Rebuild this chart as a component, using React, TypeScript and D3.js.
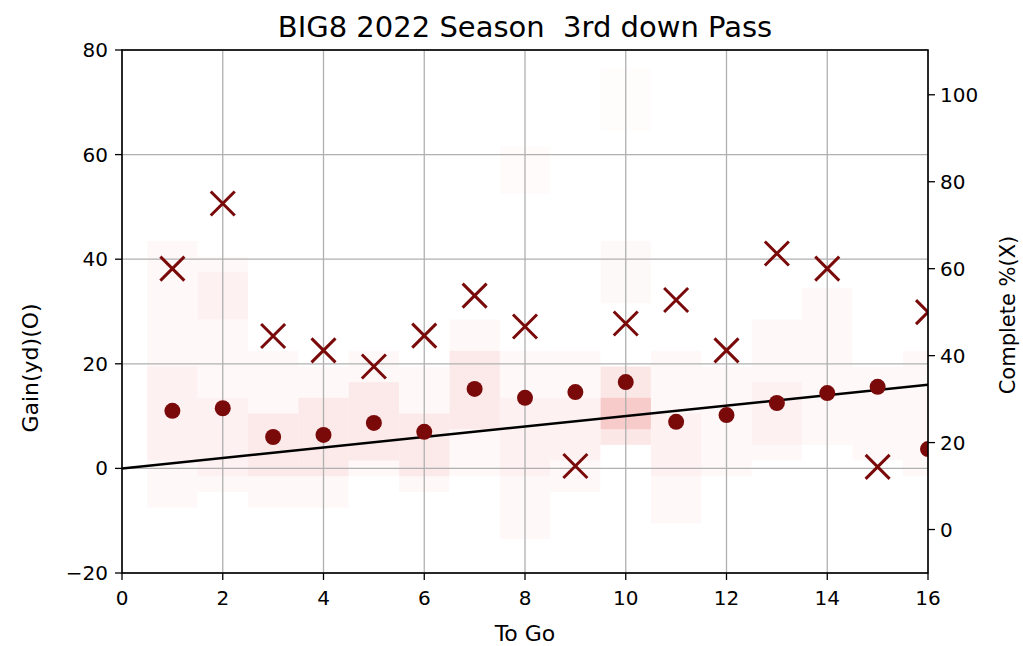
import React from 'react';
import * as d3 from 'd3';

// yards to go on 3rd down
const toGo = [1, 2, 3, 4, 5, 6, 7, 8, 9, 10, 11, 12, 13, 14, 15, 16];
// average gain (yd), left axis
const gain = [11.0, 11.5, 6.0, 6.4, 8.7, 7.0, 15.2, 13.5, 14.6, 16.5, 8.9, 10.2, 12.5, 14.4, 15.6, 3.7];
// completion %, right axis
const complete = [60, 75, 44.5, 41.2, 37.5, 44.6, 53.8, 46.7, 14.6, 47.4, 52.8, 41.2, 63.5, 60, 14.4, 50];
// play density: [toGo, gain from, gain to, weight]
const density: [number, number, number, number][] = [
  [1, -7.5, 43.5, 1], [1, 1.5, 19.5, 1],
  [2, -4.5, 40.5, 1], [2, 28.5, 37.5, 1], [2, -1.5, 13.5, 1],
  [3, -7.5, 22.5, 1], [3, -1.5, 10.5, 2],
  [4, -7.5, 19.5, 1], [4, -1.5, 13.5, 2],
  [5, -1.5, 22.5, 1], [5, 1.5, 16.5, 2],
  [6, -4.5, 19.5, 1], [6, -1.5, 10.5, 2],
  [7, -1.5, 28.5, 1], [7, 7.5, 22.5, 2],
  [8, 52.5, 61.5, 0.6], [8, -13.5, 22.5, 1], [8, -1.5, 13.5, 1],
  [9, -4.5, 22.5, 1], [9, 1.5, 13.5, 1],
  [10, 64.5, 76.5, 0.4], [10, 31.5, 43.5, 0.8], [10, 4.5, 19.5, 3.5], [10, 7.5, 13.5, 4.5],
  [11, -10.5, 22.5, 1], [11, -1.5, 10.5, 1],
  [12, -1.5, 19.5, 1],
  [13, 1.5, 28.5, 1], [13, 4.5, 16.5, 1],
  [14, 4.5, 34.5, 1],
  [15, 1.5, 19.5, 1],
  [16, -1.5, 22.5, 1],
];
const xTicks = [0, 2, 4, 6, 8, 10, 12, 14, 16];
const yTicks = [-20, 0, 20, 40, 60, 80];
const y2Ticks = [0, 20, 40, 60, 80, 100];

const W = 1023;
const H = 646;
const m = { left: 122, right: 928, top: 50, bottom: 573 };
const FONT = 'DejaVu Sans, sans-serif';
const MAROON = '#7a0a0a';

export default function App() {
  const x = d3.scaleLinear().domain([0, 16]).range([m.left, m.right]);
  const y = d3.scaleLinear().domain([-20, 80]).range([m.bottom, m.top]);
  const y2 = d3.scaleLinear().domain([-10, 110.3]).range([m.bottom, m.top]);
  const line = d3.line<number>().x(d => x(d)).y(d => y(d));
  const cs = 12;

  return (
    <svg width={W} height={H} style={{ position: 'absolute', left: 0, top: 0, background: '#fff' }}
      fontFamily={FONT}>
      <defs>
        <clipPath id="plot">
          <rect x={m.left} y={m.top} width={m.right - m.left} height={m.bottom - m.top} />
        </clipPath>
      </defs>

      <g clipPath="url(#plot)">
        {density.map(([c, lo, hi, w], i) => (
          <rect key={'d' + i} x={x(c - 0.5)} width={x(1) - x(0)} y={y(hi)} height={y(lo) - y(hi)}
            fill="#e00000" fillOpacity={1 - Math.pow(0.972, w)} />
        ))}
      </g>

      {/* grid */}
      {xTicks.map(t => (
        <line key={'gx' + t} x1={x(t)} x2={x(t)} y1={m.top} y2={m.bottom} stroke="#b0b0b0" strokeWidth={1.3} />
      ))}
      {yTicks.map(t => (
        <line key={'gy' + t} x1={m.left} x2={m.right} y1={y(t)} y2={y(t)} stroke="#b0b0b0" strokeWidth={1.3} />
      ))}

      <g clipPath="url(#plot)">
        <path d={line([0, 16]) || ''} stroke="#000" strokeWidth={2.5} fill="none" />
        {toGo.map((t, i) => (
          <circle key={'c' + t} cx={x(t)} cy={y(gain[i])} r={8} fill={MAROON} />
        ))}
        {toGo.map((t, i) => {
          const cx = x(t);
          const cy = y2(complete[i]);
          return (
            <path key={'x' + t}
              d={`M${cx - cs},${cy - cs}L${cx + cs},${cy + cs}M${cx - cs},${cy + cs}L${cx + cs},${cy - cs}`}
              stroke={MAROON} strokeWidth={3} />
          );
        })}
      </g>

      {/* frame */}
      <rect x={m.left} y={m.top} width={m.right - m.left} height={m.bottom - m.top}
        fill="none" stroke="#000" strokeWidth={1.6} />

      {/* bottom axis */}
      {xTicks.map(t => (
        <g key={'tx' + t}>
          <line x1={x(t)} x2={x(t)} y1={m.bottom} y2={m.bottom + 7} stroke="#000" strokeWidth={1.3} />
          <text x={x(t)} y={m.bottom + 32} fontSize={20} textAnchor="middle">{t}</text>
        </g>
      ))}
      {/* left axis */}
      {yTicks.map(t => (
        <g key={'ty' + t}>
          <line x1={m.left - 7} x2={m.left} y1={y(t)} y2={y(t)} stroke="#000" strokeWidth={1.3} />
          <text x={m.left - 14} y={y(t) + 7} fontSize={20} textAnchor="end">{t < 0 ? '\u2212' + -t : t}</text>
        </g>
      ))}
      {/* right axis */}
      {y2Ticks.map(t => (
        <g key={'ty2' + t}>
          <line x1={m.right} x2={m.right + 7} y1={y2(t)} y2={y2(t)} stroke="#000" strokeWidth={1.3} />
          <text x={m.right + 12} y={y2(t) + 7} fontSize={20} textAnchor="start">{t}</text>
        </g>
      ))}

      <text x={(m.left + m.right) / 2} y={37} fontSize={29} textAnchor="middle" style={{ whiteSpace: 'pre' }}>
        BIG8 2022 Season  3rd down Pass
      </text>
      <text x={(m.left + m.right) / 2} y={641} fontSize={22} textAnchor="middle">To Go</text>
      <text transform="translate(38,368) rotate(-90)" fontSize={22} textAnchor="middle">Gain(yd)(O)</text>
      <text transform="translate(1015,315) rotate(-90)" fontSize={21} textAnchor="middle">Complete %(X)</text>
    </svg>
  );
}
